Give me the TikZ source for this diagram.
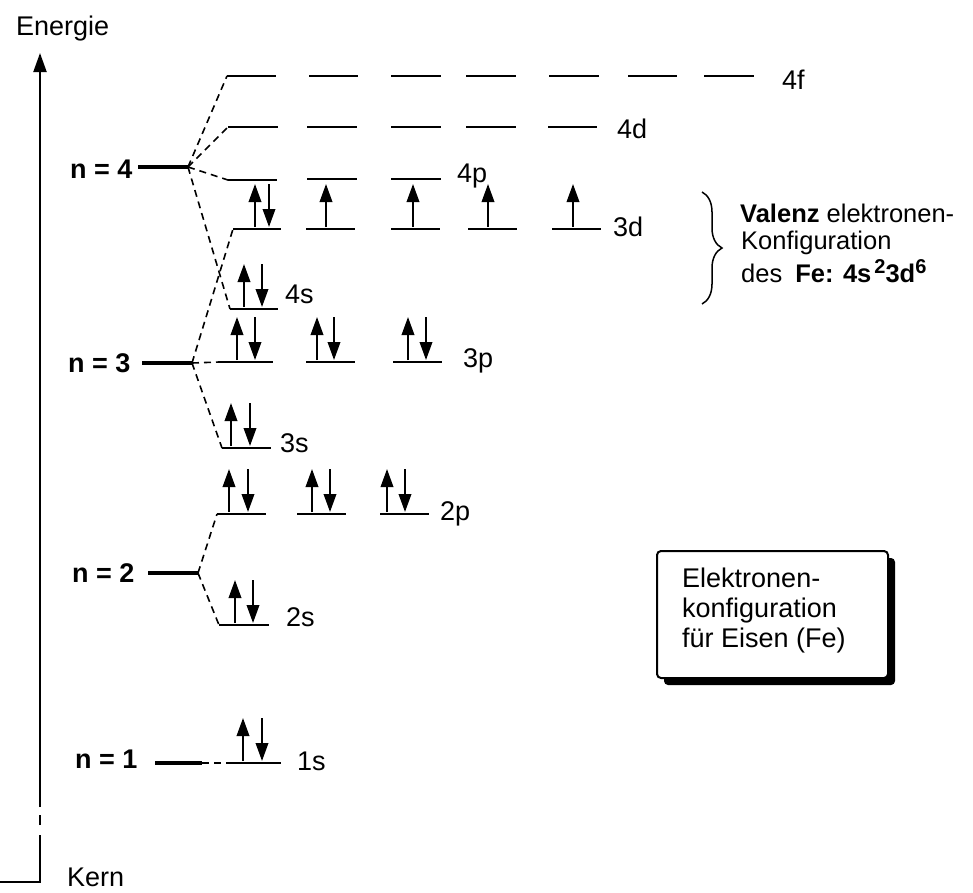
\documentclass[tikz,border=0pt]{standalone}
\usepackage{fontspec}
\setmainfont{Liberation Sans}
\usetikzlibrary{arrows.meta,decorations.pathreplacing,shadows}
\newcommand\myup[2]{\draw[spin] (#1,#2-2) -- (#1,#2-45);}
\newcommand\mydn[2]{\draw[spin] (#1,#2-45) -- (#1,#2-2);}
\begin{document}
\begin{tikzpicture}[x=1pt,y=-1pt,
  lvl/.style={line width=2pt},
  shell/.style={line width=4.5pt},
  split/.style={line width=1.6pt, dash pattern=on 7pt off 5pt},
  spin/.style={line width=2pt, -{Triangle[length=18pt,width=12.5pt]}},
  lbl/.style={anchor=base west, inner sep=0pt, font=\fontsize{27}{31}\selectfont},
  nlbl/.style={lbl, font=\fontsize{27}{31}\selectfont\bfseries},
  vlbl/.style={lbl, font=\fontsize{25.5}{30}\selectfont},
  box/.style={draw, line width=2pt, fill=white, rounded corners=4pt,
    minimum width=231pt, minimum height=127pt, inner sep=0pt,
    drop shadow={shadow xshift=7pt, shadow yshift=-7pt, opacity=1, fill=black}}]
\useasboundingbox (0,0) rectangle (973,892);

% energy axis
\node[lbl] (energie) at (16,35) {Energie};
\node[lbl] (kern) at (67,886) {Kern};
\coordinate (k0) at (0,882);
\coordinate (k1) at (40,882);
\coordinate (k2) at (40,835);
\coordinate (k3) at (40,825);
\coordinate (k4) at (40,815);
\coordinate (k5) at (40,807);
\coordinate (ktop) at (40,53);
\draw[lvl] (k0) -- (k1) -- (k2);
\draw[lvl] (k3) -- (k4);
\draw[lvl, -{Triangle[length=19pt,width=13pt]}] (k5) -- (ktop);

% shells
\node[nlbl] (n4) at (70,178) {n = 4};
\node[nlbl] (n3) at (68,372) {n = 3};
\node[nlbl] (n2) at (72,582) {n = 2};
\node[nlbl] (n1) at (75,768) {n = 1};
\coordinate (s4) at (138,167); \coordinate (j4) at (188,167);
\coordinate (s3) at (142,363); \coordinate (j3) at (192,363);
\coordinate (s2) at (148,573); \coordinate (j2) at (198,573);
\coordinate (s1) at (155,763); \coordinate (j1) at (202,763);
\draw[shell] (s4) -- (j4);
\draw[shell] (s3) -- (j3);
\draw[shell] (s2) -- (j2);
\draw[shell] (s1) -- (j1);

% 4f
\draw[lvl] (227,76) coordinate (f4) -- (276,76);
\foreach \a/\b in {309/358,391/441,466/516,549/599,628/677,704/754}
  \draw[lvl] (\a,76) -- (\b,76);
\node[lbl] (l4f) at (782,89) {4f};
% 4d
\draw[lvl] (228,127) coordinate (d4) -- (278,127);
\foreach \a/\b in {307/357,391/441,466/516,548/597}
  \draw[lvl] (\a,127) -- (\b,127);
\node[lbl] (l4d) at (617,138) {4d};
% 4p
\draw[lvl] (228,180) coordinate (p4) -- (277,180);
\foreach \a/\b in {307/357,391/441}
  \draw[lvl] (\a,179) -- (\b,179);
\node[lbl] (l4p) at (457,182) {4p};
% 3d
\draw[lvl] (233,229) coordinate (d3) -- (281,229);
\foreach \a/\b in {306/355,391/440,468/517,552/601}
  \draw[lvl] (\a,229) -- (\b,229);
\node[lbl] (l3d) at (613,236) {3d};
\myup{255}{229}\mydn{269}{229}
\myup{326}{229}\myup{413}{229}\myup{488}{229}\myup{573}{229}
% 4s
\draw[lvl] (230,309) coordinate (s4o) -- (278,309);
\node[lbl] (l4s) at (285,303) {4s};
\myup{244}{309}\mydn{262}{309}
% 3p
\draw[lvl] (219,362) coordinate (p3) -- (273,362);
\foreach \a/\b in {306/355,393/442}
  \draw[lvl] (\a,362) -- (\b,362);
\node[lbl] (l3p) at (463,367) {3p};
\myup{237}{362}\mydn{255}{362}
\myup{317}{362}\mydn{334}{362}
\myup{408}{362}\mydn{426}{362}
% 3s
\draw[lvl] (222,448) coordinate (s3o) -- (271,448);
\node[lbl] (l3s) at (280,452) {3s};
\myup{231}{448}\mydn{250}{448}
% 2p
\draw[lvl] (217,514) coordinate (p2) -- (266,514);
\foreach \a/\b in {297/346,380/429}
  \draw[lvl] (\a,514) -- (\b,514);
\node[lbl] (l2p) at (440,520) {2p};
\myup{229}{514}\mydn{248}{514}
\myup{312}{514}\mydn{330}{514}
\myup{387}{514}\mydn{405}{514}
% 2s
\draw[lvl] (219,625) coordinate (s2o) -- (269,625);
\node[lbl] (l2s) at (286,626) {2s};
\myup{235}{625}\mydn{253}{625}
% 1s
\draw[lvl] (230,763) coordinate (s1o) -- (281,763);
\node[lbl] (l1s) at (297,770) {1s};
\myup{243}{763}\mydn{262}{763}

% splitting connectors
\draw[split] (j4) -- (f4);
\draw[split] (j4) -- (d4);
\draw[split] (j4) -- (p4);
\draw[split] (j4) -- (s4o);
\draw[split] (j3) -- (d3);
\draw[split] (j3) -- (p3);
\draw[split] (j3) -- (s3o);
\draw[split] (j2) -- (p2);
\draw[split] (j2) -- (s2o);
\draw[split] (j1) -- (s1o);

% brace and valence text
\coordinate (b0) at (702,192);
\coordinate (b1) at (702,304);
\draw[line width=1.5pt, decorate, decoration={brace, amplitude=20pt}] (b0) -- (b1);
\node[vlbl] (v1) at (740,222) {\textbf{Valenz} elektronen-};
\node[vlbl] (v2) at (741,249) {Konfiguration};
\node[vlbl] (v3) at (741,282) {des\hspace{13pt}\textbf{Fe: 4s\hspace{3pt}\raisebox{9pt}{\fontsize{20}{22}\selectfont 2}3d\raisebox{9pt}{\fontsize{20}{22}\selectfont 6}}};

% info box
\node[box] (ebox) at (772.5,614.5) {};
\node[lbl] (e1) at (682,587) {Elektronen-};
\node[lbl] (e2) at (682,617) {konfiguration};
\node[lbl] (e3) at (682,647) {für Eisen (Fe)};
\end{tikzpicture}
\end{document}
